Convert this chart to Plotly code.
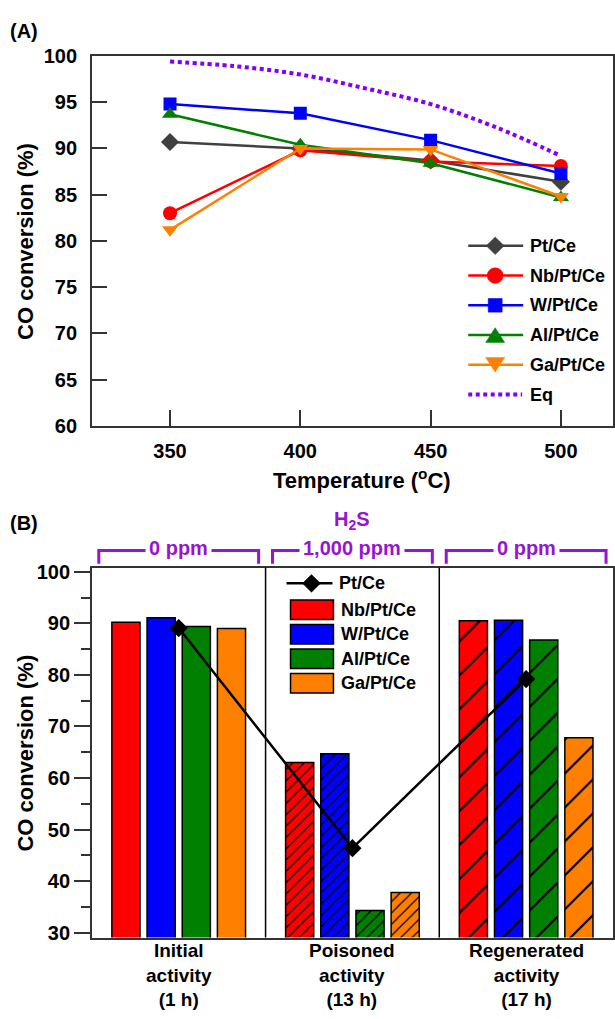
import plotly.graph_objects as go

W, H = 615, 1019


def px(x):
    return x / W


def py(y):
    return 1 - y / H


FONT = "Liberation Sans, Arial, sans-serif"
PURPLE = "#9614D2"
AXC = "#333333"

# ---------------- Panel A data ----------------
temps = [350, 400, 450, 500]
pt_ce = [90.7, 90.0, 88.7, 86.4]
nb_pt_ce = [83.0, 89.8, 88.6, 88.1]
w_pt_ce = [94.8, 93.8, 90.9, 87.3]
al_pt_ce = [93.7, 90.4, 88.4, 84.7]
ga_pt_ce = [81.2, 90.0, 89.9, 84.8]
eq_temps = [350, 375, 400, 425, 450, 475, 500]
eq_conv = [99.4, 98.9, 98.0, 96.5, 94.8, 92.3, 89.2]

# ---------------- Panel B data ----------------
stage_line1 = ["Initial", "Poisoned", "Regenerated"]
stage_line2 = ["activity", "activity", "activity"]
stage_time = ["(1 h)", "(13 h)", "(17 h)"]
h2s_labels = ["0 ppm", "1,000 ppm", "0 ppm"]
nb_bar = [90.2, 63.0, 90.5]
w_bar = [91.1, 64.7, 90.6]
al_bar = [89.4, 34.3, 86.8]
ga_bar = [89.0, 37.8, 67.8]
ptce_bar_line = [89.1, 46.4, 79.2]

series_names = ["Pt/Ce", "Nb/Pt/Ce", "W/Pt/Ce", "Al/Pt/Ce", "Ga/Pt/Ce", "Eq"]
series_colors = ["#404040", "#FF0000", "#0000FF", "#008000", "#FF8000", "#8000FF"]
series_symbols = ["diamond", "circle", "square", "triangle-up", "triangle-down"]
symbol_sizes = [14, 14, 13, 14, 14]

fig = go.Figure()

top_vals = [pt_ce, nb_pt_ce, w_pt_ce, al_pt_ce, ga_pt_ce]
for i, vals in enumerate(top_vals):
    fig.add_trace(go.Scatter(
        x=temps, y=vals, mode="lines+markers", name=series_names[i],
        line=dict(color=series_colors[i], width=2.5),
        marker=dict(symbol=series_symbols[i], size=symbol_sizes[i], color=series_colors[i]),
        showlegend=False, xaxis="x", yaxis="y",
    ))
fig.add_trace(go.Scatter(
    x=eq_temps, y=eq_conv, mode="lines", name="Eq", line_shape="spline",
    line=dict(color=series_colors[5], width=4, dash="4px,3.5px"),
    showlegend=False, xaxis="x", yaxis="y",
))

# Panel B bars
stage_x = [0, 1, 2]
bar_vals = [nb_bar, w_bar, al_bar, ga_bar]
for j, vals in enumerate(bar_vals):
    c = series_colors[j + 1]
    fig.add_trace(go.Bar(
        x=stage_x, y=vals, name=series_names[j + 1], showlegend=False,
        marker=dict(
            color=c, line=dict(color="black", width=1.5),
            pattern=dict(shape=["", "/", "/"], size=[8, 8, 24],
                         solidity=[0.15, 0.15, 0.09],
                         fgcolor="black", bgcolor=c, fillmode="replace"),
        ),
        xaxis="x2", yaxis="y2",
    ))
fig.add_trace(go.Scatter(
    x=stage_x, y=ptce_bar_line, mode="lines+markers", name="Pt/Ce", showlegend=False,
    line=dict(color="black", width=2.5),
    marker=dict(symbol="diamond", size=14, color="black"),
    xaxis="x2", yaxis="y2",
))

tickfont = dict(family=FONT, size=20, color="black", weight="bold")

fig.update_layout(
    width=W, height=H,
    margin=dict(l=0, r=0, t=0, b=0),
    paper_bgcolor="white", plot_bgcolor="white",
    barmode="group", bargap=0.19, bargroupgap=0.2,
    font=dict(family=FONT, color="black"),
    showlegend=False,
    xaxis=dict(
        domain=[px(92), px(614)], range=[320, 520], anchor="y",
        tickvals=temps, ticks="inside", ticklen=16, tickwidth=1.5, tickcolor=AXC,
        showline=True, linecolor=AXC, linewidth=1.5, mirror=True,
        showgrid=False, zeroline=False, tickfont=tickfont, ticklabelstandoff=6,
    ),
    yaxis=dict(
        domain=[py(424), py(46)], range=[60, 100], anchor="x",
        dtick=5, ticks="inside", ticklen=15, tickwidth=1.5, tickcolor=AXC,
        showline=True, linecolor=AXC, linewidth=1.5, mirror=True,
        showgrid=False, zeroline=False, tickfont=tickfont, ticklabelstandoff=9,
    ),
    xaxis2=dict(
        domain=[px(92), px(614)], range=[-0.5, 2.5], anchor="y2",
        showticklabels=False, ticks="",
        showline=True, linecolor=AXC, linewidth=1.5, mirror=True,
        showgrid=False, zeroline=False,
    ),
    yaxis2=dict(
        domain=[py(947), py(569)], range=[29.05, 100.8], anchor="x2",
        tickvals=[30, 40, 50, 60, 70, 80, 90, 100], ticks="outside", ticklen=16,
        tickwidth=1.5, tickcolor=AXC,
        minor=dict(dtick=5, ticks="outside", ticklen=9, tickwidth=1.5, tickcolor=AXC),
        showline=True, linecolor=AXC, linewidth=1.5, mirror=True,
        showgrid=False, zeroline=False, tickfont=tickfont,
    ),
)

shapes = []
annots = []


def text(x, y, s, size=20, color="black", xanchor="center", xref="paper", **kw):
    annots.append(dict(x=x, y=y, xref=xref, yref="paper", text=s, showarrow=False,
                       xanchor=xanchor, yanchor="middle",
                       font=dict(family=FONT, size=size, color=color, weight="bold"), **kw))


def marker_shape(sym, cx, cy, color):
    if sym == "diamond":
        rx, ry = 9, 9
        path = (f"M{px(cx - rx)},{py(cy)} L{px(cx)},{py(cy - ry)} "
                f"L{px(cx + rx)},{py(cy)} L{px(cx)},{py(cy + ry)} Z")
        return dict(type="path", path=path)
    if sym == "circle":
        r = 8
        return dict(type="circle", x0=px(cx - r), x1=px(cx + r), y0=py(cy + r), y1=py(cy - r))
    if sym == "square":
        r = 7
        return dict(type="rect", x0=px(cx - r), x1=px(cx + r), y0=py(cy + r), y1=py(cy - r))
    if sym == "triangle-up":
        r, h = 9.5, 15
        path = (f"M{px(cx - r)},{py(cy + h / 2)} L{px(cx)},{py(cy - h / 2)} "
                f"L{px(cx + r)},{py(cy + h / 2)} Z")
        return dict(type="path", path=path)
    r, h = 9.5, 15
    path = (f"M{px(cx - r)},{py(cy - h / 2)} L{px(cx)},{py(cy + h / 2)} "
            f"L{px(cx + r)},{py(cy - h / 2)} Z")
    return dict(type="path", path=path)


# Panel A legend (drawn manually)
rows_a = [240, 270.4, 300.8, 331.2, 361.6, 392]
for i, name in enumerate(series_names):
    cy = rows_a[i]
    c = series_colors[i]
    if i < 5:
        shapes.append(dict(type="line", xref="paper", yref="paper", x0=px(469), x1=px(524),
                           y0=py(cy), y1=py(cy), line=dict(color=c, width=2.5)))
        ms = marker_shape(series_symbols[i], 496, cy, c)
        ms.update(xref="paper", yref="paper", fillcolor=c, line=dict(color=c, width=0.5))
        shapes.append(ms)
    else:
        shapes.append(dict(type="line", xref="paper", yref="paper", x0=px(469), x1=px(523),
                           y0=py(cy), y1=py(cy),
                           line=dict(color=c, width=4, dash="4px,3.5px")))
    text(px(529), py(cy), name, size=18, xanchor="left")

# Separator lines between stages
for xv in [0.5, 1.5]:
    shapes.append(dict(type="line", xref="x2", yref="y2 domain", x0=xv, x1=xv, y0=0, y1=1,
                       line=dict(color="black", width=1.5)))

# H2S brackets
for i, lab in enumerate(h2s_labels):
    x0, x1 = stage_x[i] - 0.46, stage_x[i] + 0.46
    yt, yb = py(551.5), py(565)
    shapes.append(dict(type="path", xref="x2", yref="paper",
                       path=f"M{x0},{yb} L{x0},{yt} L{x1},{yt} L{x1},{yb}",
                       line=dict(color=PURPLE, width=3)))
    text(stage_x[i], py(549), lab, size=20, color=PURPLE, xref="x2",
         bgcolor="white", borderpad=3)
text(stage_x[1], py(521), "H<sub>2</sub>S", size=20, color=PURPLE, xref="x2")

# Stage labels (one multi-line label per stage, like a tick label)
for i in range(3):
    s = f"{stage_line1[i]}<br>{stage_line2[i]}<br>{stage_time[i]}"
    text(stage_x[i], py(985), s, size=19, xref="x2")

# Panel B legend (drawn manually for large swatches)
shapes.append(dict(type="line", xref="paper", yref="paper", x0=px(287), x1=px(333),
                   y0=py(585), y1=py(585), line=dict(color="black", width=2.5)))
dm = marker_shape("diamond", 312, 585, "black")
dm.update(xref="paper", yref="paper", fillcolor="black", line=dict(color="black", width=0.5))
shapes.append(dm)
text(px(338), py(585), series_names[0], size=18, xanchor="left")
row_tops = [602, 627, 652, 677]
for j, top in enumerate(row_tops):
    shapes.append(dict(type="rect", xref="paper", yref="paper", x0=px(291), x1=px(334),
                       y0=py(top + 20), y1=py(top), fillcolor=series_colors[j + 1],
                       line=dict(color="black", width=1.5)))
    text(px(340), py(top + 10), series_names[j + 1], size=18, xanchor="left")

# Axis titles and panel labels
text(px(26), py(235), "CO conversion (%)", size=22, textangle=-90)
text(px(26), py(758), "CO conversion (%)", size=22, textangle=-90)
text(px(363), py(478), "Temperature (<sup>o</sup>C)", size=22)
text(px(8), py(20), "(A)", size=20, xanchor="left")
text(px(8), py(523), "(B)", size=20, xanchor="left")

fig.update_layout(shapes=shapes, annotations=annots)
fig.write_html("out.html")
